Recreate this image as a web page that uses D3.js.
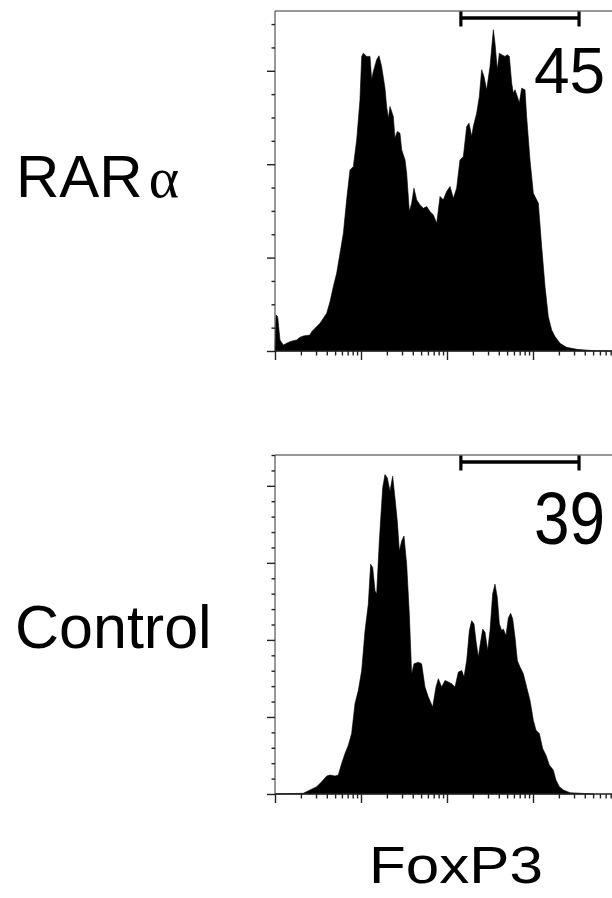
<!DOCTYPE html>
<html>
<head>
<meta charset="utf-8">
<script src="https://cdn.jsdelivr.net/npm/d3@7"></script>
<style>
  body { margin: 0; background: #fff; }
  svg { display: block; }
</style>
</head>
<body>
<div id="canvas"></div>
<script>
/* FoxP3 histograms, RARa vs Control
   x values are log10 of FoxP3 intensity, y values are cell counts */

var rarFoxp3 = [0, 0.012, 0.031, 0.058, 0.097, 0.136, 0.174, 0.213, 0.252, 0.291, 0.329, 0.407, 0.426, 0.465,
    0.523, 0.562, 0.601, 0.640, 0.678, 0.717, 0.756, 0.795, 0.833, 0.872, 0.911, 0.950, 0.988, 1.008, 1.027,
    1.066, 1.105, 1.124, 1.143, 1.182, 1.209, 1.240, 1.279, 1.298, 1.318, 1.337, 1.376, 1.395, 1.422, 1.453,
    1.473, 1.512, 1.531, 1.562, 1.589, 1.616, 1.647, 1.686, 1.725, 1.764, 1.802, 1.841, 1.880, 1.919, 1.957,
    1.996, 2.035, 2.074, 2.112, 2.151, 2.190, 2.229, 2.256, 2.287, 2.306, 2.345, 2.376, 2.403, 2.430, 2.461,
    2.500, 2.539, 2.558, 2.585, 2.609, 2.636, 2.674, 2.702, 2.725, 2.752, 2.771, 2.791, 2.818, 2.841, 2.868,
    2.907, 2.926, 2.965, 3.004, 3.062, 3.101, 3.140, 3.178, 3.217, 3.256, 3.314, 3.391, 3.508, 3.702, 3.919];
var rarCounts = [0, 38.6, 36.8, 11.8, 6.4, 8.2, 10, 11.1, 11.8, 14.6, 16.1, 17.1, 20.7, 24.3,
    29.6, 35, 40.4, 52.9, 68.9, 83.2, 104.6, 126.1, 161.8, 193.9, 197.5, 226.1, 268.9, 315.4, 318.9,
    315.4, 315.4, 290.4, 299.3, 311.8, 316.1, 304.6, 281.4, 261.8, 249.3, 261.8, 251.1, 227.9, 235, 233.2,
    215.4, 204.6, 190.4, 149.3, 158.2, 174.3, 161.8, 156.4, 152.9, 154.6, 149.3, 145.7, 136.8, 165.4, 161.8,
    170.7, 176.1, 163.6, 174.3, 204.6, 208.2, 240.4, 243.9, 229.6, 240.4, 254.6, 272.5, 301.1, 293.9, 279.6,
    304.6, 343.9, 329.6, 301.1, 318.9, 317.1, 315.4, 317.1, 315.4, 286.8, 276.1, 279.6, 272.5, 265.4, 281.4,
    279.6, 251.1, 204.6, 168.9, 158.2, 111.8, 68.9, 36.8, 22.5, 15.4, 8.2, 3.9, 1.8, 0.4, 0];

var ctrlFoxp3 = [0, 0.329, 0.407, 0.484, 0.543, 0.601, 0.640, 0.698, 0.736, 0.775, 0.814, 0.853, 0.891,
    0.930, 0.969, 1.008, 1.047, 1.085, 1.112, 1.136, 1.163, 1.182, 1.213, 1.252, 1.279, 1.306, 1.337, 1.368,
    1.395, 1.422, 1.446, 1.473, 1.500, 1.531, 1.562, 1.589, 1.616, 1.667, 1.705, 1.744, 1.783, 1.833, 1.872,
    1.899, 1.938, 1.977, 2.016, 2.054, 2.093, 2.132, 2.171, 2.198, 2.229, 2.260, 2.287, 2.314, 2.337, 2.364,
    2.384, 2.415, 2.442, 2.473, 2.500, 2.531, 2.558, 2.585, 2.609, 2.636, 2.655, 2.686, 2.713, 2.740, 2.764,
    2.791, 2.818, 2.849, 2.888, 2.926, 2.965, 3.004, 3.035, 3.074, 3.112, 3.151, 3.190, 3.236, 3.267, 3.306,
    3.353, 3.430, 3.702];
var ctrlCounts = [0, 0.9, 5.2, 9.5, 15.9, 23.3, 24.6, 23.3, 24.6, 39.7, 52.6, 63.4, 78.4,
    117.2, 134.5, 160.3, 212.1, 246.6, 298.3, 294, 263.8, 259.5, 328.4, 397.4, 414.7, 410.3, 393.1, 412.5,
    384.5, 354.3, 315.5, 328.4, 334.9, 298.3, 233.6, 156, 168.9, 171.1, 168.9, 138.8, 125.9, 112.9, 138.8,
    149.6, 138.8, 147.4, 145.3, 143.1, 138.8, 158.2, 160.3, 151.7, 173.3, 212.1, 225, 220.7, 199.1, 177.6,
    192.7, 214.2, 209.9, 186.2, 212.1, 259.5, 272.4, 255.2, 220.7, 212.1, 214.2, 205.6, 228.4, 234.5, 227.2,
    203.4, 173.3, 164.7, 156, 138.8, 121.6, 95.7, 82.8, 78.4, 59.1, 50.4, 37.5, 31, 18.1, 9.5,
    5.2, 1.7, 0];

var panelNames = ["RAR", "Control"];
var gatePercents = ["45", "39"];
var gateRange = [145, 3430];
var xMajorTicks = [1, 10, 100, 1000, 10000];
var yMaxCounts = [364, 440];
var yMajorTicks = [[0, 100, 200, 300], [0, 100, 200, 300, 400]];
var yMinorTicks = [[25, 50, 75, 125, 150, 175, 225, 250, 275, 325, 350],
    [20, 40, 60, 80, 120, 140, 160, 180, 220, 240, 260, 280, 320, 340, 360, 380, 420, 440]];
var xLabel = "FoxP3";

var width = 612, height = 898;

var svg = d3.select("#canvas")
    .append("svg")
    .attr("width", width)
    .attr("height", height);

// both panels share the same log x scale
var x = d3.scaleLog()
    .domain([1, 10000])
    .range([275, 619]);

var xMinorTicks = [];
xMajorTicks.slice(0, -1).forEach(function(m){
    [2, 3, 4, 5, 6, 7, 8, 9].forEach(function(k){ xMinorTicks.push(m * k); });
});

var panels = [
    {top: 11, bottom: 351, foxp3: rarFoxp3, counts: rarCounts, numY: 93, numScale: 1},
    {top: 455, bottom: 794, foxp3: ctrlFoxp3, counts: ctrlCounts, numY: 544, numScale: 1.15}
];

panels.forEach(function(p, i){

    var y = d3.scaleLinear()
        .domain([0, yMaxCounts[i]])
        .range([p.bottom, p.top]);

    var g = svg.append("g");

    var pts = p.foxp3.map(function(v, j){ return {v: Math.pow(10, v), c: p.counts[j]}; });

    var area = d3.area()
        .x(function(d){ return x(d.v); })
        .y0(y(0))
        .y1(function(d){ return y(d.c); });

    g.append("path")
        .datum(pts)
        .attr("d", area)
        .style("fill", "#000")
        .style("stroke", "#000")
        .style("stroke-width", 0.6);

    // frame: top and left lines (right side runs off the picture)
    g.append("line")
        .attr("x1", x(1)).attr("x2", width + 10)
        .attr("y1", p.top).attr("y2", p.top)
        .style("stroke", "#333").style("stroke-width", 1);
    g.append("line")
        .attr("x1", x(1)).attr("x2", x(1))
        .attr("y1", p.top).attr("y2", p.bottom)
        .style("stroke", "#333").style("stroke-width", 1);

    // y axis ticks
    var yMaj = g.append("g")
        .attr("transform", "translate(" + x(1) + ",0)")
        .call(d3.axisLeft(y).tickValues(yMajorTicks[i]).tickSize(8).tickFormat(""));
    var yMin = g.append("g")
        .attr("transform", "translate(" + x(1) + ",0)")
        .call(d3.axisLeft(y).tickValues(yMinorTicks[i]).tickSize(3.5).tickFormat(""));

    // x axis ticks
    var xMaj = g.append("g")
        .attr("transform", "translate(0," + p.bottom + ")")
        .call(d3.axisBottom(x).tickValues(xMajorTicks).tickSize(9).tickFormat(""));
    var xMin = g.append("g")
        .attr("transform", "translate(0," + p.bottom + ")")
        .call(d3.axisBottom(x).tickValues(xMinorTicks).tickSize(4.5).tickFormat(""));

    [yMaj, yMin, xMaj, xMin].forEach(function(a){
        a.select(".domain").remove();
        a.selectAll("line").style("stroke", "#222").style("stroke-width", 1.4);
    });

    g.append("line")
        .attr("x1", x(1)).attr("x2", width + 10)
        .attr("y1", p.bottom).attr("y2", p.bottom)
        .style("stroke", "#222").style("stroke-width", 1.4);

    // gate bar
    var gy = p.top + 7;
    g.append("line")
        .attr("x1", x(gateRange[0])).attr("x2", x(gateRange[1]))
        .attr("y1", gy).attr("y2", gy)
        .style("stroke", "#000").style("stroke-width", 3.5);
    gateRange.forEach(function(v){
        g.append("line")
            .attr("x1", x(v)).attr("x2", x(v))
            .attr("y1", p.top + 0.5).attr("y2", p.top + 15.5)
            .style("stroke", "#000").style("stroke-width", 3.2);
    });

    // gate percentage (the lower one is drawn a bit taller)
    g.append("text")
        .attr("transform", "translate(534," + p.numY + ") scale(1," + p.numScale + ")")
        .style("font-family", "Liberation Sans, Arial, sans-serif")
        .style("font-size", "64px")
        .text(gatePercents[i]);
});

// row labels
var lab1 = svg.append("text")
    .attr("x", 16)
    .attr("y", 197)
    .style("font-family", "Liberation Sans, Arial, sans-serif")
    .style("font-size", "60px");
lab1.append("tspan").text(panelNames[0]);
lab1.append("tspan")
    .attr("dx", 6)
    .style("font-family", "Liberation Serif, Times New Roman, serif")
    .style("font-size", "58px")
    .text("\u03b1");

svg.append("text")
    .attr("x", 15)
    .attr("y", 648)
    .style("font-family", "Liberation Sans, Arial, sans-serif")
    .style("font-size", "61px")
    .text(panelNames[1]);

svg.append("text")
    .attr("x", 369)
    .attr("y", 883)
    .attr("textLength", 174)
    .attr("lengthAdjust", "spacingAndGlyphs")
    .style("font-family", "Liberation Sans, Arial, sans-serif")
    .style("font-size", "52px")
    .text(xLabel);
</script>
</body>
</html>
